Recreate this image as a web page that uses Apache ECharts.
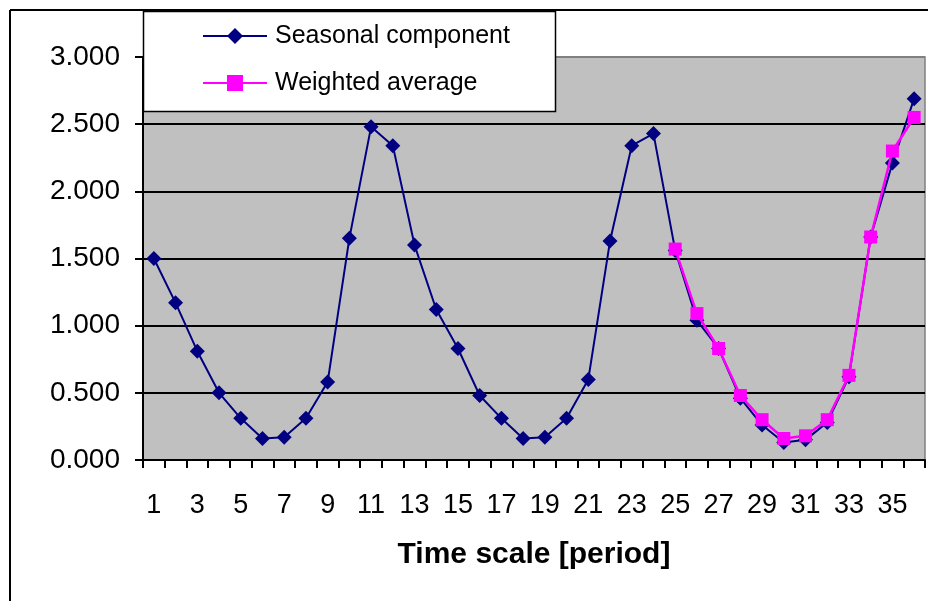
<!DOCTYPE html>
<html>
<head>
<meta charset="utf-8">
<script src="https://cdn.jsdelivr.net/npm/echarts@6/dist/echarts.min.js"></script>
<style>
  html, body { margin: 0; padding: 0; background: #fff; }
  #chart { width: 928px; height: 601px; }
</style>
</head>
<body>
<div id="chart"></div>
<script>
// periods 1..36
const periods = Array.from({ length: 36 }, (_, i) => String(i + 1));

const seasonal = [
  1.50, 1.17, 0.81, 0.50, 0.31, 0.16, 0.17, 0.31, 0.58, 1.65,
  2.48, 2.34, 1.60, 1.12, 0.83, 0.48, 0.31, 0.16, 0.17, 0.31,
  0.60, 1.63, 2.34, 2.43, 1.56, 1.04, 0.83, 0.46, 0.26, 0.13,
  0.15, 0.28, 0.62, 1.66, 2.21, 2.69
];

// weighted average only exists from period 25 on
const weighted = [
  null, null, null, null, null, null, null, null, null, null,
  null, null, null, null, null, null, null, null, null, null,
  null, null, null, null, 1.57, 1.09, 0.83, 0.48, 0.30, 0.16,
  0.18, 0.30, 0.63, 1.66, 2.30, 2.55
];

const yTicks = [0, 0.5, 1, 1.5, 2, 2.5, 3];

const font = '"Liberation Sans", Arial, sans-serif';
const chart = echarts.init(document.getElementById('chart'));

const option = {
  animation: false,
  textStyle: { fontFamily: font },
  grid: {
    left: 143, right: 3, top: 57, bottom: 141,
    show: true,
    backgroundColor: '#c0c0c0',
    borderColor: '#808080',
    borderWidth: 1.5
  },
  graphic: [
    // outer frame (top + left edges visible)
    { type: 'line', shape: { x1: 10, y1: 10, x2: 928, y2: 10 }, style: { stroke: '#000', lineWidth: 2 }, z: 0 },
    { type: 'line', shape: { x1: 10, y1: 10, x2: 10, y2: 601 }, style: { stroke: '#000', lineWidth: 2 }, z: 0 },
    // legend box
    { type: 'rect', shape: { x: 143.5, y: 11.5, width: 412, height: 100 }, style: { fill: '#fff', stroke: '#000', lineWidth: 1.5 }, z: 10 }
  ],
  legend: {
    orient: 'vertical',
    left: 202,
    top: 21,
    padding: 0,
    itemWidth: 64,
    itemHeight: 20,
    itemGap: 17,
    z: 20,
    lineStyle: { width: 2 },
    textStyle: { fontSize: 25, color: '#000', fontFamily: font, lineHeight: 30, padding: [0, 0, 0, 3] },
    data: ['Seasonal component', 'Weighted average']
  },
  xAxis: {
    type: 'category',
    data: periods,
    boundaryGap: true,
    axisLine: { lineStyle: { color: '#000', width: 2 } },
    axisTick: { show: true, interval: 0, alignWithLabel: false, length: 8, lineStyle: { color: '#000', width: 2 } },
    axisLabel: { interval: 1, fontSize: 27, color: '#000', margin: 32, fontFamily: font },
    name: 'Time scale [period]',
    nameLocation: 'middle',
    nameGap: 80,
    nameTextStyle: { fontSize: 30, fontWeight: 'bold', color: '#000', fontFamily: font }
  },
  yAxis: {
    type: 'value',
    min: yTicks[0],
    max: yTicks[yTicks.length - 1],
    interval: 0.5,
    axisLine: { show: true, lineStyle: { color: '#000', width: 2 } },
    axisTick: { show: true, length: 8, lineStyle: { color: '#000', width: 2 } },
    axisLabel: {
      fontSize: 28, color: '#000', margin: 23, fontFamily: font,
      formatter: v => v.toFixed(3)
    },
    splitLine: {
      show: true,
      lineStyle: { color: ['#000', '#000', '#000', '#000', '#000', '#000', '#808080'], width: 2 }
    }
  },
  series: [
    {
      name: 'Seasonal component',
      type: 'line',
      data: seasonal,
      showAllSymbol: true,
      symbol: 'diamond',
      symbolSize: 15,
      itemStyle: { color: '#000080' },
      lineStyle: { color: '#000080', width: 2 },
      z: 3
    },
    {
      name: 'Weighted average',
      type: 'line',
      data: weighted,
      showAllSymbol: true,
      connectNulls: false,
      symbol: 'rect',
      symbolSize: 13,
      itemStyle: { color: '#ff00ff' },
      lineStyle: { color: '#ff00ff', width: 2.5 },
      z: 4
    }
  ]
};

chart.setOption(option);
</script>
</body>
</html>
